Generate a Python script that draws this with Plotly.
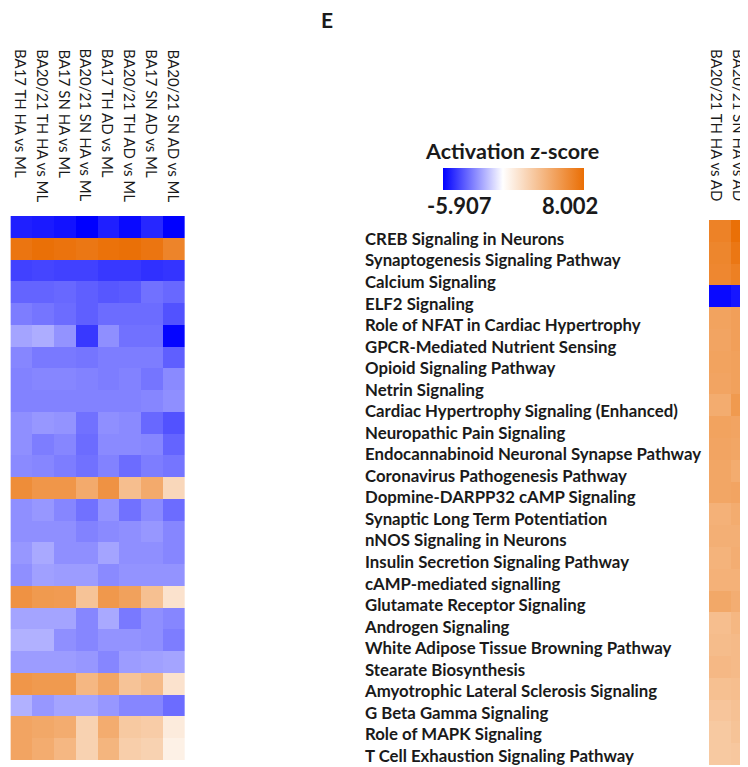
import plotly.graph_objects as go

W, H = 748, 767
OFF = 8  # default page margin around the figure in the browser
FW, FH = W - OFF, H - OFF
PAGE_BOT = OFF + FH

pathways = [
    "CREB Signaling in Neurons",
    "Synaptogenesis Signaling Pathway",
    "Calcium Signaling",
    "ELF2 Signaling",
    "Role of NFAT in Cardiac Hypertrophy",
    "GPCR-Mediated Nutrient Sensing",
    "Opioid Signaling Pathway",
    "Netrin Signaling",
    "Cardiac Hypertrophy Signaling (Enhanced)",
    "Neuropathic Pain Signaling",
    "Endocannabinoid Neuronal Synapse Pathway",
    "Coronavirus Pathogenesis Pathway",
    "Dopmine-DARPP32 cAMP Signaling",
    "Synaptic Long Term Potentiation",
    "nNOS Signaling in Neurons",
    "Insulin Secretion Signaling Pathway",
    "cAMP-mediated signalling",
    "Glutamate Receptor Signaling",
    "Androgen Signaling",
    "White Adipose Tissue Browning Pathway",
    "Stearate Biosynthesis",
    "Amyotrophic Lateral Sclerosis Signaling",
    "G Beta Gamma Signaling",
    "Role of MAPK Signaling",
    "T Cell Exhaustion Signaling Pathway",
]

left_cols = [
    "BA17 TH HA vs ML", "BA20/21 TH HA vs ML", "BA17 SN HA vs ML", "BA20/21 SN HA vs ML",
    "BA17 TH AD vs ML", "BA20/21 TH AD vs ML", "BA17 SN AD vs ML", "BA20/21 SN AD vs ML",
]
right_cols = ["BA20/21 TH HA vs AD", "BA20/21 SN HA vs AD"]

left_z = [
    [-5.2, -5.3, -5.5, -5.9, -5.2, -5.7, -5.0, -5.9],
    [7.6, 7.9, 7.7, 7.5, 7.8, 7.9, 7.6, 6.8],
    [-4.4, -4.3, -4.4, -4.4, -4.6, -4.6, -4.8, -4.7],
    [-3.6, -3.6, -3.5, -3.7, -3.9, -3.8, -3.3, -3.5],
    [-3.0, -3.2, -3.4, -3.7, -3.4, -3.4, -3.4, -4.0],
    [-2.1, -1.9, -2.5, -4.6, -2.6, -3.3, -3.3, -5.8],
    [-2.8, -3.1, -3.1, -3.2, -3.0, -3.0, -3.0, -3.7],
    [-2.9, -2.8, -2.8, -2.9, -3.0, -2.9, -3.2, -2.7],
    [-2.9, -2.9, -2.9, -2.9, -2.9, -2.9, -2.8, -2.6],
    [-2.6, -2.4, -2.5, -3.3, -2.6, -2.7, -3.5, -4.0],
    [-2.6, -3.0, -2.8, -3.4, -2.7, -2.7, -2.8, -3.6],
    [-2.7, -2.8, -3.0, -3.3, -2.9, -3.4, -3.0, -3.2],
    [6.3, 5.8, 5.8, 4.7, 6.0, 3.6, 4.7, 2.2],
    [-2.6, -2.4, -2.8, -3.3, -2.5, -3.3, -2.7, -3.4],
    [-2.6, -2.6, -2.6, -2.9, -2.7, -2.6, -2.4, -2.8],
    [-2.4, -2.0, -2.6, -2.6, -2.1, -2.6, -2.6, -2.8],
    [-2.6, -2.2, -2.3, -2.3, -2.7, -2.5, -2.5, -2.5],
    [6.0, 5.6, 5.5, 3.3, 5.7, 5.2, 3.5, 1.6],
    [-2.1, -2.1, -2.1, -2.8, -2.0, -3.1, -2.6, -2.8],
    [-1.8, -1.8, -2.6, -2.8, -2.5, -2.5, -2.6, -3.0],
    [-2.3, -2.3, -2.3, -2.4, -2.8, -2.3, -2.2, -2.1],
    [5.8, 5.6, 5.6, 4.0, 4.9, 3.3, 3.8, 1.6],
    [-1.8, -2.4, -2.1, -2.1, -2.4, -2.8, -2.8, -3.4],
    [5.0, 4.8, 4.6, 2.5, 4.6, 3.0, 2.8, 1.1],
    [5.0, 4.6, 4.0, 2.5, 4.1, 2.7, 2.5, 0.8],
]

right_z = [
    [6.9, 7.9], [6.7, 7.5], [6.6, 7.0], [-5.7, -5.4], [5.1, 5.3],
    [5.0, 5.3], [5.1, 5.2], [5.0, 5.2], [4.6, 5.6], [5.1, 5.0],
    [5.0, 4.9], [4.9, 4.6], [4.9, 5.0], [4.3, 4.6], [4.4, 4.4],
    [4.2, 4.5], [4.3, 4.3], [4.8, 4.5], [3.6, 4.0], [3.7, 3.8],
    [3.9, 3.8], [3.5, 3.6], [3.2, 3.4], [3.0, 3.3], [3.0, 3.1],
]

zmin, zmax = -5.907, 8.002
white_pos = (0 - zmin) / (zmax - zmin)
orange = "rgb(234,110,4)"
colorscale = [[0, "rgb(0,0,255)"], [white_pos, "rgb(255,255,255)"], [1, orange]]

FONT = "Lato"
TXT = "#1a1a1a"


def fx(p):  # page pixel -> paper x
    return min(1.0, max(0.0, (p - OFF) / FW))


def fy(p):  # page pixel -> paper y
    return min(1.0, max(0.0, 1 - (p - OFF) / FH))


n = len(pathways)


def rows_axis(top, bot):
    """domain + category range so that rows keep their height when cut at the page bottom."""
    row_h = (bot - top) / n
    vis_bot = min(bot, PAGE_BOT)
    hidden = (bot - vis_bot) / row_h
    return [fy(vis_bot), fy(top)], [n - 0.5 - hidden, -0.5]


L_TOP, L_BOT = 216, 760
R_TOP, R_BOT = 220, 765
l_dom, l_rng = rows_axis(L_TOP, L_BOT)
r_dom, r_rng = rows_axis(R_TOP, R_BOT)

lab_first, lab_step = 239, 21.54
lab_top = (L_TOP - lab_first) / lab_step
lab_bot = (min(L_BOT, PAGE_BOT) - lab_first) / lab_step

fig = go.Figure()
fig.add_trace(go.Heatmap(z=left_z, x=left_cols, y=pathways, coloraxis="coloraxis",
                         xaxis="x", yaxis="y"))
fig.add_trace(go.Heatmap(z=right_z, x=right_cols, y=pathways, coloraxis="coloraxis",
                         xaxis="x2", yaxis="y2"))
# invisible helper that carries the pathway names on a free, left-aligned axis
fig.add_trace(go.Scatter(x=[left_cols[0]] * n, y=list(range(n)),
                         mode="markers", marker=dict(opacity=0), hoverinfo="skip",
                         showlegend=False, xaxis="x", yaxis="y3"))

fig.update_layout(
    width=FW, height=FH,
    margin=dict(l=0, r=0, t=0, b=0, autoexpand=False),
    paper_bgcolor="white", plot_bgcolor="white",
    font=dict(family=FONT, color=TXT),
    title=dict(text="<b>E</b>", x=fx(327), y=fy(21), xanchor="center", yanchor="middle",
               font=dict(size=21, family=FONT, color=TXT)),
    xaxis=dict(domain=[fx(9), fx(185)], showticklabels=False, showgrid=False, zeroline=False,
               ticks="", showline=False),
    yaxis=dict(domain=l_dom, range=l_rng, showticklabels=False,
               showgrid=False, zeroline=False, ticks=""),
    xaxis2=dict(domain=[fx(709), 1], anchor="y2", range=[-0.5, 1.27], showticklabels=False,
                showgrid=False, zeroline=False, ticks=""),
    yaxis2=dict(domain=r_dom, range=r_rng, anchor="x2",
                showticklabels=False, showgrid=False, zeroline=False, ticks=""),
    yaxis3=dict(overlaying="y", anchor="free", position=fx(364), side="right",
                range=[lab_bot, lab_top], tickvals=list(range(n)), ticktext=pathways,
                showgrid=False, zeroline=False, showline=False, ticks="",
                ticklabeloverflow="allow",
                tickfont=dict(size=16.8, family=FONT, color=TXT, weight="bold")),
    coloraxis=dict(
        colorscale=colorscale, cmin=zmin, cmax=zmax,
        colorbar=dict(
            orientation="h", lenmode="pixels", len=141, thicknessmode="pixels", thickness=22,
            x=fx(513.5), xanchor="center", y=fy(179), yanchor="middle",
            xpad=0, ypad=0, outlinewidth=0, showticklabels=False, ticks="",
        ),
    ),
)

# colour bar title and end values
fig.add_annotation(x=fx(511.5), y=fy(151), xref="paper", yref="paper",
                   text="Activation z-score", showarrow=False, xanchor="center", yanchor="middle",
                   font=dict(size=21.5, family=FONT, color=TXT, weight="bold"))
fig.add_annotation(x=fx(425), y=fy(205), xref="paper", yref="paper",
                   text=f"{zmin:.3f}", showarrow=False, xanchor="left", yanchor="middle",
                   font=dict(size=22, family=FONT, color=TXT, weight="bold"))
fig.add_annotation(x=fx(600), y=fy(205), xref="paper", yref="paper",
                   text=f"{zmax:.3f}", showarrow=False, xanchor="right", yanchor="middle",
                   font=dict(size=22, family=FONT, color=TXT, weight="bold"))

for c in left_cols:
    fig.add_annotation(x=c, y=fy(47), xref="x", yref="paper", text=c, textangle=90,
                       showarrow=False, xanchor="center", yanchor="top",
                       font=dict(size=15, family=FONT, color=TXT))
for c in right_cols:
    fig.add_annotation(x=c, y=fy(47), xref="x2", yref="paper", text=c, textangle=90,
                       showarrow=False, xanchor="center", yanchor="top", xshift=-3,
                       font=dict(size=15, family=FONT, color=TXT))

fig.write_html("out.html")
